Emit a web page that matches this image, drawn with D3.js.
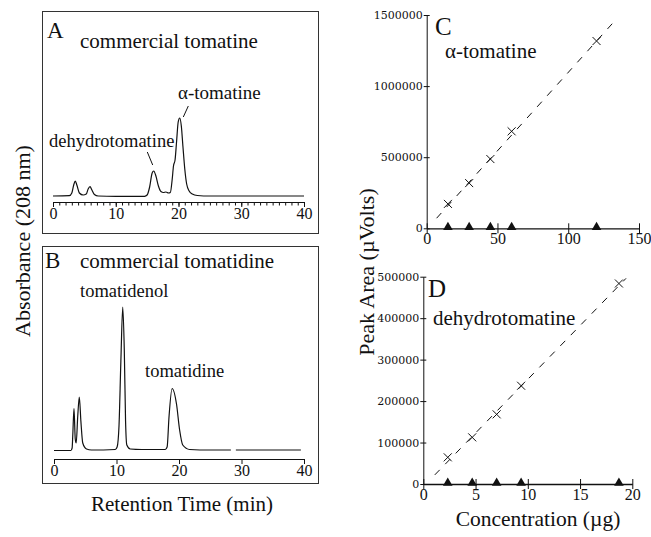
<!DOCTYPE html>
<html><head><meta charset="utf-8">
<script src="https://cdn.jsdelivr.net/npm/d3@7"></script>
<style>
body{margin:0;background:#fff}
svg{display:block}
text{font-family:"Liberation Serif","Times New Roman",serif;fill:#111}
</style></head>
<body><svg id="chart" width="651" height="537"></svg>
<script>
// ---------- data ----------
const timeTicks = [0, 10, 20, 30, 40];
const timeMinorTicks = d3.range(0, 41, 1);
// Panel A trace: [retention time (min), absorbance (arb.)]
const traceA = [[0,0],[2.6,0.3],[3.0,3],[3.3,11],[3.55,15],[3.8,11],[4.2,3],[4.8,1],[5.3,2],[5.6,7],[5.9,9.3],[6.2,6],[6.6,1.5],[7.2,0],[10,-0.3],[14.6,-0.3],[15.0,1],[15.4,9],[15.8,23],[16.05,25],[16.4,20],[16.8,10],[17.2,4.5],[17.6,3.5],[18.0,4],[18.4,3],[18.7,3.5],[19.0,17],[19.2,30],[19.45,36],[19.7,55],[19.95,74],[20.2,78],[20.45,70],[20.7,50],[21.0,27],[21.3,12],[21.7,5],[22.2,2],[23,0.5],[25,0],[40,0]];
// Panel B trace (null = gap in the recorded line)
const traceB = [[0,0.5],[2.7,0.5],[2.9,3],[3.0,15],[3.2,42.5],[3.4,12],[3.55,8],[3.8,35],[4.05,54],[4.3,30],[4.6,8],[5.2,2],[6,1],[9.8,1.5],[10.1,4],[10.4,25],[10.7,90],[11.0,144],[11.25,100],[11.45,30],[11.65,6],[12.2,2],[14,1.5],[17.8,1.5],[18.1,4],[18.4,34],[18.9,62.5],[19.6,47],[20.1,21],[20.6,6],[21.7,1.5],[25,1],[28.3,1],[28.6,null],[29.1,1],[39.5,1]];

// Panel C: alpha-tomatine calibration
const concC = [15, 30, 45, 60, 120];
const areaC = [171600, 317800, 487000, 682000, 1317000];
const areaC0 = [0, 0, 0, 0, 0];
const fitC = [[7, 71000], [134, 1471000]];
const cTicksX = [0, 50, 100, 150];
const cTicksY = [0, 500000, 1000000, 1500000];

// Panel D: dehydrotomatine calibration
const concD = [2.34, 4.68, 7.02, 9.36, 18.72];
const areaD = [64300, 112500, 168000, 237000, 483600];
const areaD0 = [0, 0, 0, 0, 0];
const fitD = [[1.1, 22000], [19.4, 496000]];
const dTicksX = [0, 5, 10, 15, 20];
const dTicksY = [0, 100000, 200000, 300000, 400000, 500000];

// ---------- drawing ----------
const svg = d3.select("#chart");
const ink = "#111";

// panel boxes
svg.append("rect").attr("x",42.5).attr("y",11.5).attr("width",276).attr("height",222)
  .attr("fill","none").attr("stroke","#333").attr("stroke-width",1);
svg.append("rect").attr("x",42.5).attr("y",246.5).attr("width",276).attr("height",237)
  .attr("fill","none").attr("stroke","#333").attr("stroke-width",1);

function chromPanel(trace, xr, yDom, yRange, axisY, minor) {
  const x = d3.scaleLinear().domain([0,40]).range(xr);
  const y = d3.scaleLinear().domain(yDom).range(yRange);
  const line = d3.line().defined(d => d[1] !== null)
    .x(d => x(d[0])).y(d => y(d[1])).curve(d3.curveMonotoneX);
  svg.append("path").datum(trace).attr("d", line)
    .attr("fill","none").attr("stroke",ink).attr("stroke-width",1.2);
  if (minor) {
    const gm = svg.append("g").attr("transform",`translate(0,${axisY})`)
      .call(d3.axisBottom(x).tickValues(timeMinorTicks).tickSize(3.5).tickSizeOuter(0).tickFormat(""));
    gm.select(".domain").remove();
    gm.selectAll("line").attr("stroke",ink).attr("stroke-width",1);
  }
  const g = svg.append("g").attr("transform",`translate(0,${axisY})`)
    .call(d3.axisBottom(x).tickValues(timeTicks).tickSize(5).tickSizeOuter(0));
  g.select(".domain").attr("stroke",ink).attr("stroke-width",1.2);
  g.selectAll("line").attr("stroke",ink);
  g.selectAll("text").attr("y",16.5).attr("dy",0)
    .style("font-family","'Liberation Serif',serif").style("font-size","16px").attr("fill",ink);
  return {x,y};
}

chromPanel(traceA, [53,304], [0,100], [196,96], 202, true);
chromPanel(traceB, [54,304], [0,144], [451,307], 459, false);

function txt(s, x, y, size, anchor) {
  return svg.append("text").attr("x",x).attr("y",y).attr("font-size",size)
    .attr("text-anchor",anchor||"start").text(s);
}
function seg(x1,y1,x2,y2){
  svg.append("line").attr("x1",x1).attr("y1",y1).attr("x2",x2).attr("y2",y2)
    .attr("stroke",ink).attr("stroke-width",1);
}

// panel A texts
txt("A", 47, 38, 23);
txt("commercial tomatine", 80, 48, 21);
txt("α-tomatine", 178, 99, 19);
txt("dehydrotomatine", 49, 147, 18.5);
seg(188.3,106,183.3,117);
seg(147.3,152,152.7,165);

// panel B texts
txt("B", 45, 268, 23);
txt("commercial tomatidine", 80, 268, 21);
txt("tomatidenol", 80, 297, 18.5);
txt("tomatidine", 145, 377, 18.5);

// shared axis titles
txt("Retention Time (min)", 182, 511, 21, "middle");
svg.append("text").attr("transform","translate(30,241) rotate(-90)")
  .attr("text-anchor","middle").attr("font-size",22).text("Absorbance (208 nm)");
svg.append("text").attr("transform","translate(374,272) rotate(-90)")
  .attr("text-anchor","middle").attr("font-size",22).text("Peak Area (µVolts)");
txt("Concentration (µg)", 538, 526, 21.5, "middle");

function calPanel(conc, area, area0, fit, tx, ty, xr, yr) {
  const x = d3.scaleLinear().domain([tx[0], tx[tx.length-1]]).range(xr);
  const y = d3.scaleLinear().domain([ty[0], ty[ty.length-1]]).range(yr);
  // fit line
  svg.append("path").datum(fit).attr("d", d3.line().x(d=>x(d[0])).y(d=>y(d[1])))
    .attr("fill","none").attr("stroke",ink).attr("stroke-width",1).attr("stroke-dasharray","7,8");
  // axes
  const gx = svg.append("g").attr("transform",`translate(0,${yr[0]})`)
    .call(d3.axisBottom(x).tickValues(tx).tickSize(5).tickSizeOuter(0));
  gx.select(".domain").attr("stroke",ink).attr("stroke-width",1.3);
  gx.selectAll("line").attr("stroke",ink).attr("y1",-5);
  gx.selectAll("text").attr("y",15.5).attr("dy",0)
    .style("font-family","'Liberation Serif',serif").style("font-size","16px").attr("fill",ink);
  const gy = svg.append("g").attr("transform",`translate(${xr[0]},0)`)
    .call(d3.axisLeft(y).tickValues(ty).tickSize(3).tickSizeOuter(0).tickFormat(d3.format("d")));
  gy.select(".domain").attr("stroke",ink).attr("stroke-width",1);
  gy.selectAll("line").attr("stroke",ink).attr("x1",3);
  gy.selectAll("text").attr("x",-4)
    .style("font-family","'DejaVu Serif',serif").style("font-size","11px").attr("fill",ink);
  // crosses
  const cross = "M-4,-4L4,4M-4,4L4,-4";
  svg.append("g").selectAll("path").data(conc.map((c,i)=>[c,area[i]])).join("path")
    .attr("d",cross).attr("transform",d=>`translate(${x(d[0])},${y(d[1])})`)
    .attr("stroke",ink).attr("stroke-width",1).attr("fill","none");
  // triangles
  svg.append("g").selectAll("path").data(conc.map((c,i)=>[c,area0[i]])).join("path")
    .attr("d", d3.symbol().type(d3.symbolTriangle).size(40))
    .attr("transform",d=>`translate(${x(d[0])},${y(d[1])-1})`).attr("fill",ink);
  return {x,y};
}

calPanel(concC, areaC, areaC0, fitC, cTicksX, cTicksY, [426.7,639], [228.3,15]);
calPanel(concD, areaD, areaD0, fitD, dTicksX, dTicksY, [423.3,632.3], [484,276.7]);

txt("C", 435, 35, 25);
txt("α-tomatine", 445, 58, 21);
txt("D", 428, 297, 25);
txt("dehydrotomatine", 433, 325, 21);
</script>
</body></html>
